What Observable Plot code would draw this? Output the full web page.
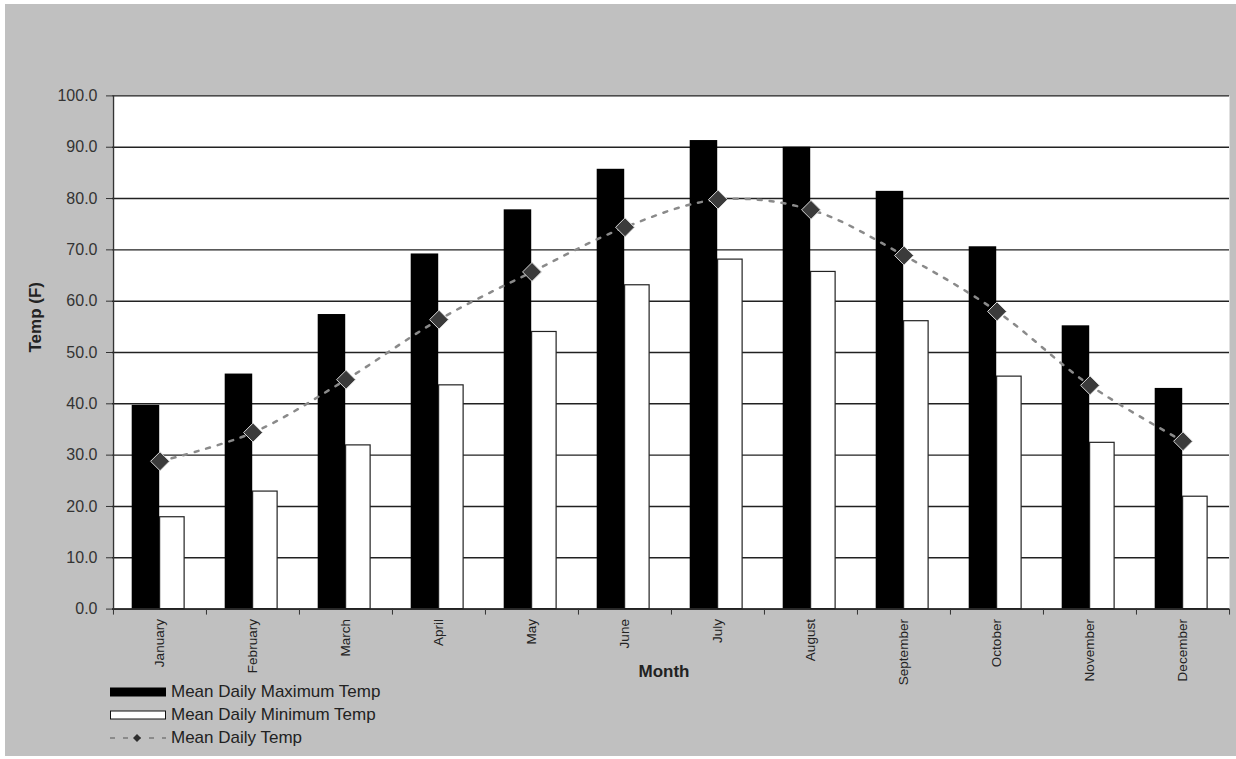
<!DOCTYPE html>
<html><head><meta charset="utf-8">
<script src="https://cdn.jsdelivr.net/npm/d3@7"></script>
<script src="https://cdn.jsdelivr.net/npm/@observablehq/plot@0.6"></script>
<style>
body{margin:0;background:#fff;font-family:"Liberation Sans",Arial,sans-serif;}
#bg{position:absolute;left:5px;top:4px;width:1231px;height:752px;background:#c0c0c0;overflow:hidden;}
#chart{position:absolute;left:0;top:0;}
#legend{position:absolute;left:105px;top:676px;font-size:17px;color:#222;}
.item{display:flex;align-items:center;height:23px;}
.item svg{margin-right:4px;}
</style></head><body>
<div id="bg"><div id="chart"></div><div id="legend"></div></div>
<script>
const months = ["January","February","March","April","May","June","July","August","September","October","November","December"];
const maxTemp = [39.7, 45.8, 57.4, 69.2, 77.8, 85.7, 91.3, 90.0, 81.4, 70.6, 55.2, 43.0];
const minTemp = [17.9, 22.9, 31.9, 43.6, 54.0, 63.1, 68.1, 65.7, 56.1, 45.3, 32.4, 21.9];
const meanTemp = [28.8, 34.4, 44.7, 56.4, 65.7, 74.4, 79.8, 77.8, 68.9, 58.0, 43.6, 32.7];
const seriesNames = ["Mean Daily Maximum Temp", "Mean Daily Minimum Temp", "Mean Daily Temp"];
const yTicks = [0, 10, 20, 30, 40, 50, 60, 70, 80, 90, 100];
const xLabel = "Month";
const yLabel = "Temp (F)";

const data = months.map((m, i) => ({month: m, max: maxTemp[i], min: minTemp[i], mean: meanTemp[i]}));

const W = 1231, H = 682, mL = 107, mR = 7, mT = 91.4, mB = 77.4;
const bw = (W - mL - mR) / months.length;

const chart = Plot.plot({
  width: W, height: H,
  marginLeft: mL, marginRight: mR, marginTop: mT, marginBottom: mB,
  style: {background: "transparent", color: "#222", fontFamily: "'Liberation Sans', Arial, sans-serif"},
  x: {type: "band", domain: months, padding: 0},
  y: {domain: [0, 100]},
  marks: [
    Plot.frame({fill: "white", stroke: "none"}),
    Plot.ruleY(yTicks, {stroke: "#222", strokeWidth: 1.4}),
    Plot.barY(data, {x: "month", y: "max", fill: "black", insetLeft: 18.7, insetRight: bw - 18.7 - 27.6}),
    Plot.barY(data, {x: "month", y: "min", fill: "white", stroke: "#222", strokeWidth: 1.2, insetLeft: 46.6, insetRight: bw - 46.6 - 24.6}),
    Plot.line(data, {x: "month", y: "mean", curve: "catmull-rom", stroke: "#8a8a8a", strokeWidth: 2.5, strokeDasharray: "4,8"}),
    Plot.dot(data, {x: "month", y: "mean", symbol: "diamond2", r: 8.5, fill: "#3b3b3b", stroke: "#d8d8d8", strokeWidth: 1}),
    Plot.ruleX(months.slice(0, 1), {x: d => d, dx: -bw / 2, stroke: "#333", strokeWidth: 1.5}),
    Plot.ruleY([0], {stroke: "#222", strokeWidth: 1.5}),
    Plot.axisX({ticks: months, tickSize: 6, tickFormat: () => "", dx: -bw / 2, stroke: "#333", label: null}),
    Plot.axisX({ticks: months.slice(-1), tickSize: 6, tickFormat: () => "", dx: bw / 2, stroke: "#333", label: null}),
    Plot.axisX({tickSize: 0, tickRotate: -90, tickPadding: 10, fontSize: 13.5, fill: "#222", label: null}),
    Plot.axisY({ticks: yTicks, tickFormat: d3.format(".1f"), tickSize: 6, tickPadding: 9, fontSize: 16, fill: "#333", stroke: "#333", label: null}),
    Plot.text([xLabel], {frameAnchor: "bottom", dy: 67.4, dx: -7, fontWeight: "bold", fontSize: 17, fill: "#222"}),
    Plot.text([yLabel], {frameAnchor: "left", dx: -77, rotate: -90, fontWeight: "bold", fontSize: 17, fill: "#222"})
  ]
});
document.getElementById("chart").appendChild(chart);

// legend
const legend = d3.select("#legend");
seriesNames.forEach((name, i) => {
  const item = legend.append("div").attr("class", "item");
  const s = item.append("svg").attr("width", 57).attr("height", 12);
  if (i === 0) {
    s.append("rect").attr("x", 0).attr("y", 1.5).attr("width", 56).attr("height", 9).attr("fill", "black");
  } else if (i === 1) {
    s.append("rect").attr("x", 0.5).attr("y", 2).attr("width", 55).attr("height", 8).attr("fill", "white").attr("stroke", "#111").attr("stroke-width", 1);
  } else {
    s.append("line").attr("x1", 0).attr("x2", 56).attr("y1", 6).attr("y2", 6).attr("stroke", "#8a8a8a").attr("stroke-width", 2).attr("stroke-dasharray", "5,8");
    s.append("path").attr("d", "M27,2 L31,6 L27,10 L23,6 Z").attr("fill", "#2e2e2e");
  }
  item.append("span").text(name);
});
</script>
</body></html>
